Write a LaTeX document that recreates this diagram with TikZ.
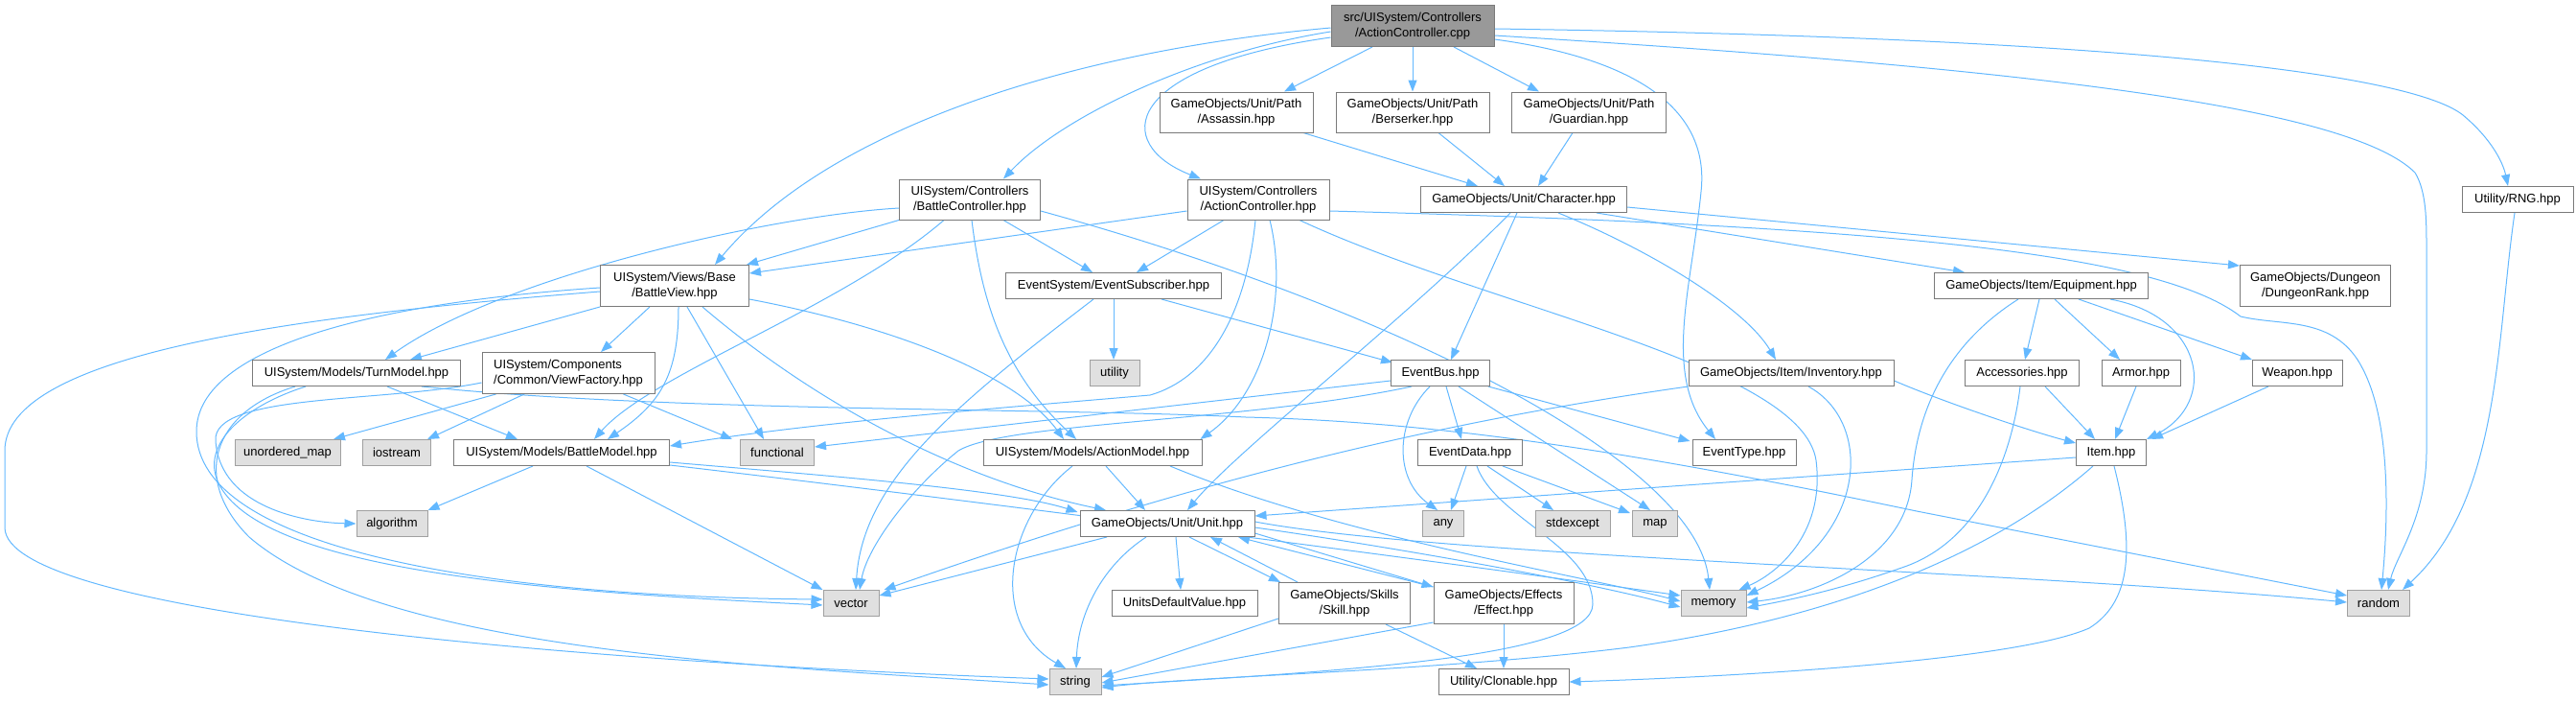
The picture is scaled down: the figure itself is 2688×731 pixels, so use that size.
\documentclass[tikz,border=0pt]{standalone}
\usepackage{fontspec}
\setmainfont{Liberation Sans}
\usetikzlibrary{arrows.meta,calc,backgrounds}
\definecolor{edgecol}{HTML}{63B8FF}
\definecolor{ndborder}{HTML}{7A7A7A}
\definecolor{extfill}{HTML}{E0E0E0}
\definecolor{extborder}{HTML}{A0A0A0}
\definecolor{rootfill}{HTML}{999999}
\newcommand{\dfont}{\fontsize{13pt}{16.5pt}\selectfont}
\tikzset{
  nd/.style={draw=ndborder, line width=1pt, fill=white, inner sep=0pt, minimum height=27pt, font=\dfont, align=center},
  ext/.style={nd, fill=extfill, draw=extborder},
  rootnd/.style={nd, fill=rootfill, draw=ndborder},
  dep/.style={draw=edgecol, line width=1pt, -{Triangle[length=12pt,width=9pt]}},
}
\begin{document}
\begin{tikzpicture}[x=1pt,y=-1pt]
\useasboundingbox (0,0) rectangle (2688,731);
% nodes
\node[rootnd, minimum width=170pt, minimum height=43pt] (root) at (1474,27) {src/UISystem/Controllers\\/ActionController.cpp};
\node[nd, minimum width=160pt, minimum height=42pt] (assassin) at (1290,117) {GameObjects/Unit/Path\\/Assassin.hpp};
\node[nd, minimum width=160pt, minimum height=42pt] (berserker) at (1474,117) {GameObjects/Unit/Path\\/Berserker.hpp};
\node[nd, minimum width=161pt, minimum height=42pt] (guardian) at (1658,117) {GameObjects/Unit/Path\\/Guardian.hpp};
\node[nd, minimum width=147pt, minimum height=42pt] (bctrl) at (1012,208) {UISystem/Controllers\\/BattleController.hpp};
\node[nd, minimum width=148pt, minimum height=42pt] (actrlh) at (1313,208) {UISystem/Controllers\\/ActionController.hpp};
\node[nd, minimum width=215pt] (character) at (1590,208) {GameObjects/Unit/Character.hpp};
\node[nd, minimum width=116pt] (rng) at (2627,208) {Utility/RNG.hpp};
\node[nd, minimum width=155pt, minimum height=43pt] (bview) at (704,298) {UISystem/Views/Base\\/BattleView.hpp};
\node[nd, minimum width=225pt] (eventsub) at (1162,298) {EventSystem/EventSubscriber.hpp};
\node[nd, minimum width=223pt] (equipment) at (2130,298) {GameObjects/Item/Equipment.hpp};
\node[nd, minimum width=157pt, minimum height=43pt] (dungeonrank) at (2416,298) {GameObjects/Dungeon\\/DungeonRank.hpp};
\node[nd, minimum width=217pt] (turnmodel) at (372,389) {UISystem/Models/TurnModel.hpp};
\node[nd, minimum width=180pt, minimum height=43pt, align=left] (viewfactory) at (593,389) {UISystem/Components\\/Common/ViewFactory.hpp};
\node[ext, minimum width=52pt] (utility) at (1163,389) {utility};
\node[nd, minimum width=103pt] (eventbus) at (1503,389) {EventBus.hpp};
\node[nd, minimum width=214pt] (inventory) at (1869,389) {GameObjects/Item/Inventory.hpp};
\node[nd, minimum width=119pt] (accessories) at (2110,389) {Accessories.hpp};
\node[nd, minimum width=82pt] (armor) at (2234,389) {Armor.hpp};
\node[nd, minimum width=94pt] (weapon) at (2397,389) {Weapon.hpp};
\node[ext, minimum width=110pt] (unorderedmap) at (300,472) {unordered\_map};
\node[ext, minimum width=71pt] (iostream) at (414,472) {iostream};
\node[nd, minimum width=225pt] (battlemodel) at (586,472) {UISystem/Models/BattleModel.hpp};
\node[ext, minimum width=77pt] (functional) at (811,472) {functional};
\node[nd, minimum width=228pt] (actionmodel) at (1140,472) {UISystem/Models/ActionModel.hpp};
\node[nd, minimum width=109pt] (eventdata) at (1534,472) {EventData.hpp};
\node[nd, minimum width=108pt] (eventtype) at (1820,472) {EventType.hpp};
\node[nd, minimum width=73pt] (item) at (2203,472) {Item.hpp};
\node[ext, minimum width=74pt] (algorithm) at (409,546) {algorithm};
\node[nd, minimum width=182pt] (unit) at (1218,546) {GameObjects/Unit/Unit.hpp};
\node[ext, minimum width=43pt] (any) at (1506,546) {any};
\node[ext, minimum width=78pt] (stdexcept) at (1641,546) {stdexcept};
\node[ext, minimum width=47pt] (map) at (1727,546) {map};
\node[ext, minimum width=58pt] (vector) at (888,629) {vector};
\node[nd, minimum width=152pt] (unitsdv) at (1236,629) {UnitsDefaultValue.hpp};
\node[nd, minimum width=137pt, minimum height=43pt] (skill) at (1403,629) {GameObjects/Skills\\/Skill.hpp};
\node[nd, minimum width=146pt, minimum height=43pt] (effect) at (1569,629) {GameObjects/Effects\\/Effect.hpp};
\node[ext, minimum width=68pt] (memory) at (1788,629) {memory};
\node[ext, minimum width=65pt] (random) at (2482,629) {random};
\node[ext, minimum width=54pt] (string) at (1122,711) {string};
\node[nd, minimum width=136pt] (clonable) at (1569,711) {Utility/Clonable.hpp};

\begin{scope}[on background layer]
% root
\draw[dep] ($(root.south)+(-42,0)$) -- ($(assassin.north)+(50,0)$);
\draw[dep] (root.south) -- (berserker.north);
\draw[dep] ($(root.south)+(43,0)$) -- ($(guardian.north)+(-52,0)$);
\draw[dep] ($(root.west)+(0,6)$) .. controls (1250,55) and (1110,120) .. ($(bctrl.north)+(35,0)$);
\draw[dep] ($(root.west)+(0,12)$) .. controls (1170,70) and (1160,150) .. ($(actrlh.north)+(-60,0)$);
\draw[dep] ($(root.west)+(0,2)$) .. controls (1100,55) and (860,140) .. ($(bview.north)+(42,0)$);
\draw[dep] ($(root.east)+(0,3)$) .. controls (2250,40) and (2520,80) .. (2570,120) .. controls (2600,145) and (2612,170) .. ($(rng.north)+(-10,0)$);
\draw[dep] ($(root.east)+(0,10)$) .. controls (2100,70) and (2450,110) .. (2520,180) .. controls (2532,200) and (2532,230) .. (2532,260) -- (2532,470) .. controls (2532,540) and (2500,580) .. ($(random.north)+(10,0)$);
\draw[dep] ($(root.east)+(0,14)$) .. controls (1700,60) and (1785,110) .. (1775,200) .. controls (1765,300) and (1735,390) .. ($(eventtype.north)+(-30,0)$);
% paths
\draw[dep] ($(assassin.south)+(70,0)$) -- ($(character.north)+(-48,0)$);
\draw[dep] ($(berserker.south)+(27,0)$) -- ($(character.north)+(-20,0)$);
\draw[dep] ($(guardian.south)+(-17,0)$) -- ($(character.north)+(15,0)$);
% battle controller
\draw[dep] (bctrl.south west) -- ($(bview.north east)+(-3,0)$);
\draw[dep] ($(bctrl.west)+(0,9)$) .. controls (800,225) and (520,290) .. ($(turnmodel.north)+(30,0)$);
\draw[dep] ($(bctrl.south)+(-27,0)$) .. controls (880,320) and (680,390) .. ($(battlemodel.north)+(34,0)$);
\draw[dep] ($(bctrl.south)+(2,0)$) .. controls (1025,320) and (1050,390) .. ($(actionmodel.north)+(-17,0)$);
\draw[dep] ($(bctrl.south)+(35,0)$) -- ($(eventsub.north)+(-22,0)$);
\draw[dep] ($(bctrl.east)+(0,12)$) .. controls (1450,320) and (1770,480) .. ($(memory.north)+(-4,0)$);
% action controller hpp
\draw[dep] ($(actrlh.west)+(0,12)$) -- ($(bview.east)+(0,-13)$);
\draw[dep] ($(actrlh.south)+(-36,0)$) -- ($(eventsub.north)+(24,0)$);
\draw[dep] ($(actrlh.south)+(-3,0)$) .. controls (1300,330) and (1260,395) .. (1200,412) .. controls (1050,425) and (850,440) .. ($(battlemodel.east)+(0,-7)$);
\draw[dep] ($(actrlh.south)+(12,0)$) .. controls (1345,310) and (1320,410) .. ($(actionmodel.north east)+(-2,0)$);
\draw[dep] ($(actrlh.south)+(43,0)$) .. controls (1550,320) and (1880,380) .. (1895,480) .. controls (1905,560) and (1850,600) .. ($(memory.north east)+(-8,0)$);
\draw[dep] ($(actrlh.east)+(0,12)$) .. controls (1950,235) and (2250,262) .. (2338,330) .. controls (2380,340) and (2430,330) .. (2460,375) .. controls (2492,425) and (2494,520) .. ($(random.north)+(3,0)$);
% character
\draw[dep] ($(character.south)+(76,0)$) -- ($(equipment.north)+(-80,0)$);
\draw[dep] ($(character.east)+(0,8)$) -- ($(dungeonrank.west)+(0,-21)$);
\draw[dep] ($(character.south)+(36,0)$) .. controls (1720,260) and (1820,320) .. ($(inventory.north)+(-16,0)$);
\draw[dep] ($(character.south)+(-7,0)$) -- ($(eventbus.north)+(11,0)$);
\draw[dep] ($(character.south)+(-14,0)$) .. controls (1470,330) and (1290,470) .. ($(unit.north)+(21,0)$);
% battle view
\draw[dep] (bview.south west) -- ($(turnmodel.north)+(56,0)$);
\draw[dep] ($(bview.south)+(-26,0)$) -- ($(viewfactory.north)+(34,0)$);
\draw[dep] ($(bview.south)+(4,0)$) .. controls (708,390) and (690,420) .. ($(battlemodel.north)+(48,0)$);
\draw[dep] ($(bview.south)+(13,0)$) -- ($(functional.north)+(-14,0)$);
\draw[dep] ($(bview.east)+(0,14)$) .. controls (930,340) and (1060,390) .. ($(actionmodel.north)+(-30,0)$);
\draw[dep] ($(bview.south)+(29,0)$) .. controls (850,420) and (1000,500) .. ($(unit.north)+(-64,0)$);
\draw[dep] ($(bview.west)+(0,2)$) .. controls (400,315) and (205,360) .. (205,450) .. controls (205,570) and (500,622) .. ($(vector.west)+(0,-4)$);
\draw[dep] ($(bview.west)+(0,6)$) .. controls (300,330) and (5,370) .. (5,470) -- (5,550) .. controls (5,640) and (600,690) .. ($(string.west)+(0,-3)$);
% event subscriber
\draw[dep] (eventsub.south) -- ($(utility.north)+(-1,0)$);
\draw[dep] ($(eventsub.south)+(50,0)$) -- ($(eventbus.north west)+(2,3)$);
\draw[dep] ($(eventsub.south)+(-21,0)$) .. controls (1000,420) and (900,500) .. ($(vector.north)+(5,0)$);
% turn model
\draw[dep] ($(turnmodel.south)+(32,0)$) -- ($(battlemodel.north)+(-46,0)$);
\draw[dep] ($(turnmodel.south)+(-53,0)$) .. controls (250,425) and (200,470) .. (235,515) .. controls (300,600) and (600,618) .. ($(vector.west)+(0,2)$);
\draw[dep] ($(turnmodel.south)+(-64,0)$) .. controls (220,430) and (200,500) .. (260,560) .. controls (400,680) and (800,695) .. ($(string.west)+(0,3)$);
\draw[dep] ($(turnmodel.south)+(68,0)$) .. controls (700,430) and (1100,425) .. (1300,435) .. controls (1500,440) and (1700,470) .. (2000,533) -- ($(random.west)+(0,-8)$);
% view factory
\draw[dep] ($(viewfactory.south west)+(15,0)$) -- ($(unorderedmap.north)+(48,0)$);
\draw[dep] ($(viewfactory.south)+(-46,0)$) -- ($(iostream.north)+(32,0)$);
\draw[dep] ($(viewfactory.south east)+(-33,0)$) -- ($(functional.north)+(-47,0)$);
\draw[dep] ($(viewfactory.west)+(0,10)$) .. controls (400,420) and (220,410) .. (225,460) .. controls (230,530) and (320,545) .. (algorithm.west);
% battle model
\draw[dep] ($(battlemodel.south)+(-30,0)$) -- (algorithm.north east);
\draw[dep] ($(battlemodel.south)+(26,0)$) -- (vector.north west);
\draw[dep] ($(battlemodel.east)+(0,10)$) .. controls (850,495) and (1050,510) .. ($(unit.north west)+(-2,2)$);
\draw[dep] ($(battlemodel.east)+(0,13)$) .. controls (1000,520) and (1500,585) .. ($(memory.west)+(0,-8)$);
% action model
\draw[dep] ($(actionmodel.south)+(14,0)$) -- ($(unit.north)+(-23,0)$);
\draw[dep] ($(actionmodel.south)+(-21,0)$) .. controls (1050,540) and (1030,650) .. ($(string.north)+(-10,0)$);
\draw[dep] ($(actionmodel.south)+(81,0)$) .. controls (1400,560) and (1650,600) .. ($(memory.west)+(0,-2)$);
% unit
\draw[dep] ($(unit.south)+(-63,0)$) -- ($(vector.east)+(0,-8)$);
\draw[dep] ($(unit.south)+(-22,0)$) .. controls (1150,590) and (1125,640) .. ($(string.north)+(1,0)$);
\draw[dep] ($(unit.south)+(9,0)$) -- ($(unitsdv.north)+(-4,0)$);
\draw[dep] ($(unit.south)+(23,0)$) -- ($(skill.north west)+(2,0)$);
\draw[dep] ($(skill.north west)+(20,0)$) -- ($(unit.south)+(45,0)$);
\draw[dep] ($(effect.north west)+(0,5)$) -- ($(unit.south)+(74,0)$);
\draw[dep] ($(unit.east)+(0,10)$) -- ($(effect.west)+(0,-17)$);
\draw[dep] ($(unit.east)+(0,4)$) .. controls (1450,570) and (1650,605) .. ($(memory.west)+(0,4)$);
\draw[dep] ($(unit.east)+(0,-2)$) .. controls (1500,580) and (2100,595) .. ($(random.west)+(0,-1)$);
% skill, effect
\draw[dep] ($(skill.south west)+(0,-6)$) -- ($(string.east)+(0,-5)$);
\draw[dep] ($(skill.south)+(43,0)$) -- ($(clonable.north)+(-28,0)$);
\draw[dep] ($(effect.south west)+(0,-2)$) -- ($(string.east)+(0,1)$);
\draw[dep] (effect.south) -- (clonable.north);
% event bus
\draw[dep] ($(eventbus.west)+(0,8)$) -- ($(functional.east)+(0,-6)$);
\draw[dep] ($(eventbus.south west)+(22,0)$) .. controls (1300,440) and (1050,440) .. (1000,470) .. controls (950,510) and (905,570) .. ($(vector.north)+(9,0)$);
\draw[dep] ($(eventbus.south)+(-11,0)$) .. controls (1455,440) and (1455,500) .. ($(any.north)+(-6,0)$);
\draw[dep] ($(eventbus.south)+(6,0)$) -- ($(eventdata.north)+(-9,0)$);
\draw[dep] ($(eventbus.south)+(19,0)$) -- ($(map.north)+(-5,0)$);
\draw[dep] ($(eventbus.south east)+(-2,0)$) -- ($(eventtype.north west)+(-2,2)$);
% event data
\draw[dep] ($(eventdata.south)+(-4,0)$) -- ($(any.north)+(8,0)$);
\draw[dep] ($(eventdata.south)+(18,0)$) -- ($(stdexcept.north)+(-20,0)$);
\draw[dep] ($(eventdata.south)+(34,0)$) -- ($(map.north west)+(-2,3)$);
\draw[dep] ($(eventdata.south)+(7,0)$) .. controls (1560,540) and (1662,570) .. (1662,630) .. controls (1662,685) and (1400,700) .. ($(string.east)+(0,4)$);
% inventory
\draw[dep] ($(inventory.east)+(0,8)$) .. controls (2030,420) and (2120,450) .. ($(item.west)+(0,-10)$);
\draw[dep] ($(inventory.south)+(18,0)$) .. controls (1955,440) and (1950,560) .. ($(memory.east)+(0,-8)$);
\draw[dep] (inventory.south west) .. controls (1500,440) and (1250,500) .. ($(vector.north east)+(5,0)$);
% equipment
\draw[dep] ($(equipment.south)+(-2,0)$) -- ($(accessories.north)+(3,0)$);
\draw[dep] ($(equipment.south)+(14,0)$) -- ($(armor.north)+(-22,0)$);
\draw[dep] ($(equipment.south)+(39,0)$) -- ($(weapon.north)+(-47,0)$);
\draw[dep] ($(equipment.south)+(72,0)$) .. controls (2300,330) and (2315,420) .. (item.north east);
\draw[dep] ($(equipment.south)+(-24,0)$) .. controls (2030,360) and (2000,430) .. (1995,500) .. controls (1990,580) and (1900,620) .. ($(memory.east)+(0,-1)$);
\draw[dep] ($(accessories.south)+(24,0)$) -- ($(item.north)+(-17,0)$);
\draw[dep] ($(accessories.south)+(-2,0)$) .. controls (2100,470) and (2070,560) .. (1990,590) .. controls (1920,615) and (1870,625) .. ($(memory.east)+(0,5)$);
\draw[dep] ($(armor.south)+(-5,0)$) -- ($(item.north)+(4,0)$);
\draw[dep] ($(weapon.south)+(-30,0)$) -- ($(item.north east)+(5,0)$);
% item
\draw[dep] ($(item.west)+(0,5)$) -- ($(unit.east)+(0,-8)$);
\draw[dep] ($(item.south)+(-19,0)$) .. controls (2100,560) and (1950,640) .. (1700,675) .. controls (1500,700) and (1250,705) .. ($(string.east)+(0,6)$);
\draw[dep] ($(item.south)+(3,0)$) .. controls (2230,580) and (2220,630) .. (2180,655) .. controls (2100,690) and (1800,706) .. (clonable.east);
% rng
\draw[dep] ($(rng.south)+(-3,0)$) .. controls (2605,350) and (2610,520) .. ($(random.north)+(25,0)$);
\end{scope}
\end{tikzpicture}
\end{document}
